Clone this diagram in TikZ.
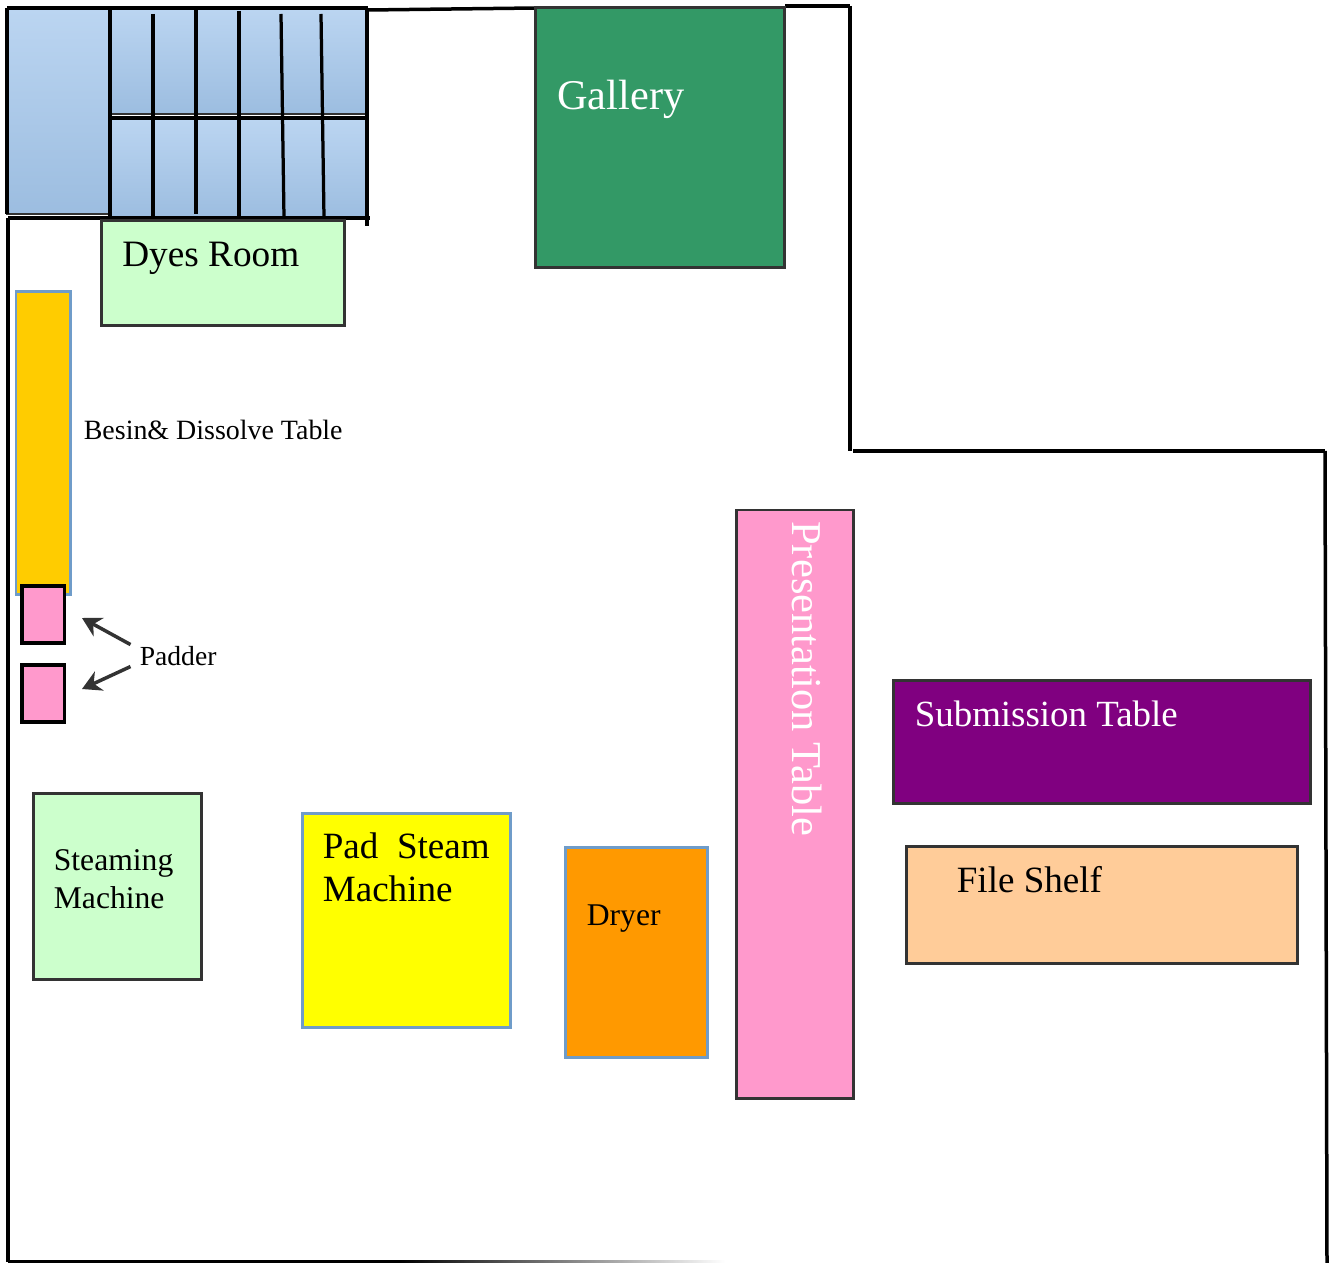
\documentclass[tikz,border=0pt]{standalone}
\usepackage{fontspec}
\setmainfont{Liberation Serif}
\usetikzlibrary{arrows.meta}
\usepackage{xcolor}
\definecolor{galleryGreen}{HTML}{339966}
\definecolor{paleGreen}{HTML}{CCFFCC}
\definecolor{tableYellow}{HTML}{FFCC00}
\definecolor{padYellow}{RGB}{255,255,0}
\definecolor{padPink}{HTML}{FF99CC}
\definecolor{deepPurple}{HTML}{800080}
\definecolor{shelfPeach}{HTML}{FFCC99}
\definecolor{dryerOrange}{HTML}{FF9900}
\definecolor{edgeBlue}{HTML}{6F9CC9}
\definecolor{edgeDark}{HTML}{333333}
\definecolor{bathTop}{HTML}{BBD5F1}
\definecolor{bathBottom}{HTML}{9CBDE0}
\tikzset{wall/.style={line width=0.07cm, black},
         partition/.style={line width=0.065cm, black},
         darkbox/.style={draw=edgeDark, line width=0.06cm},
         bluebox/.style={draw=edgeBlue, line width=0.06cm},
         padbox/.style={draw=black, line width=0.07cm, fill=padPink},
         bath/.style={draw=edgeDark, line width=0.05cm, top color=bathTop, bottom color=bathBottom},
         label/.style={anchor=base west, inner sep=0pt, align=left},
         pointer/.style={-{Stealth[length=0.38cm, width=0.42cm]}, draw=edgeDark, line width=0.07cm}}
\begin{document}
\begin{tikzpicture}[x=0.02cm, y=-0.02cm]
    \useasboundingbox (0,0) rectangle (1335,1263);

    % Bath boxes in the corner
    \draw[bath] (7,9) rectangle (110,214);
    \draw[bath] (110,9) rectangle (367,114);
    \draw[bath] (110,119) rectangle (367,218);

    % Partitions
    \draw[partition] (7,8) -- (368,8);
    \draw[partition] (7,8) -- (7,214);
    \draw[partition] (110,8) -- (110,218);
    \draw[partition] (110,118) -- (368,118);
    \draw[partition] (8,218) -- (370,218);
    \draw[partition] (367,8) -- (367,226);
    \draw[partition] (153,14) -- (153,218);
    \draw[partition] (196,9) -- (196,214);
    \draw[partition] (239,11) -- (239,218);
    \draw[partition] (281,14) -- (284,218);
    \draw[partition] (321,14) -- (324,218);

    % Outer walls
    \draw[wall] (368,10) -- (536,8);
    \draw[wall] (785,6) -- (850,6);
    \draw[wall] (850,6) -- (850,451);
    \draw[wall] (853,451) -- (1325,451);
    \draw[wall] (1325,451) -- (1327,1263);
    \draw[wall] (8,218) -- (8,1262);
    \fill[black] (8,1260) rectangle (400,1263);
    \shade[left color=black, right color=white] (400,1260) rectangle (725,1263);

    % Rooms and machines
    \draw[darkbox, fill=galleryGreen] (535.5,8) rectangle (784.5,268);
    \draw[darkbox, fill=paleGreen] (101,220.5) rectangle (344.5,326);
    \draw[bluebox, fill=tableYellow] (16,292) rectangle (70.5,594);
    \draw[padbox] (22,586) rectangle (64.5,643);
    \draw[padbox] (22,665) rectangle (64.5,722);
    \draw[darkbox, fill=paleGreen] (33,793) rectangle (201.5,979);
    \draw[bluebox, fill=padYellow] (302,813) rectangle (510.5,1027);
    \draw[bluebox, fill=dryerOrange] (565,847) rectangle (707.5,1057);
    \draw[darkbox, fill=padPink] (736,510) rectangle (853,1098.5);
    \draw[darkbox, fill=deepPurple] (893,680) rectangle (1310.5,803.5);
    \draw[darkbox, fill=shelfPeach] (906,846) rectangle (1297.5,963.5);

    % Labels
    \node[label, text=white, font=\fontsize{24.1}{28}\selectfont] (gallery) at (557,110) {Gallery};
    \node[label, font=\fontsize{21.2}{25}\selectfont] (dyes) at (122,267) {Dyes Room};
    \node[label, font=\fontsize{15.9}{19}\selectfont] (besin) at (83.5,440) {Besin\& Dissolve Table};
    \node[label, inner sep=0.18cm, font=\fontsize{15.7}{19}\selectfont] (padder) at (130.5,665) {Padder};
    \node[label, anchor=north west, font=\fontsize{18}{21.5}\selectfont] (steaming) at (53.5,849) {Steaming\\Machine};
    \node[label, anchor=north west, font=\fontsize{21.1}{24.5}\selectfont] (padsteam) at (322.5,832) {Pad\ \ Steam\\Machine};
    \node[label, font=\fontsize{18}{21}\selectfont] (dryer) at (586.5,925) {Dryer};
    \node[label, rotate=-90, text=white, font=\fontsize{24.2}{28}\selectfont] (presentation) at (792.5,521) {Presentation Table};
    \node[label, text=white, font=\fontsize{21}{25}\selectfont] (submission) at (914.5,726) {Submission Table};
    \node[label, font=\fontsize{21.1}{25}\selectfont] (file) at (956.5,892) {File Shelf};

    % Arrows to the padders
    \coordinate (padA) at (82,618);
    \coordinate (padB) at (82,689);
    \draw[pointer] (padder.167) -- (padA);
    \draw[pointer] (padder.193) -- (padB);
\end{tikzpicture}
\end{document}
